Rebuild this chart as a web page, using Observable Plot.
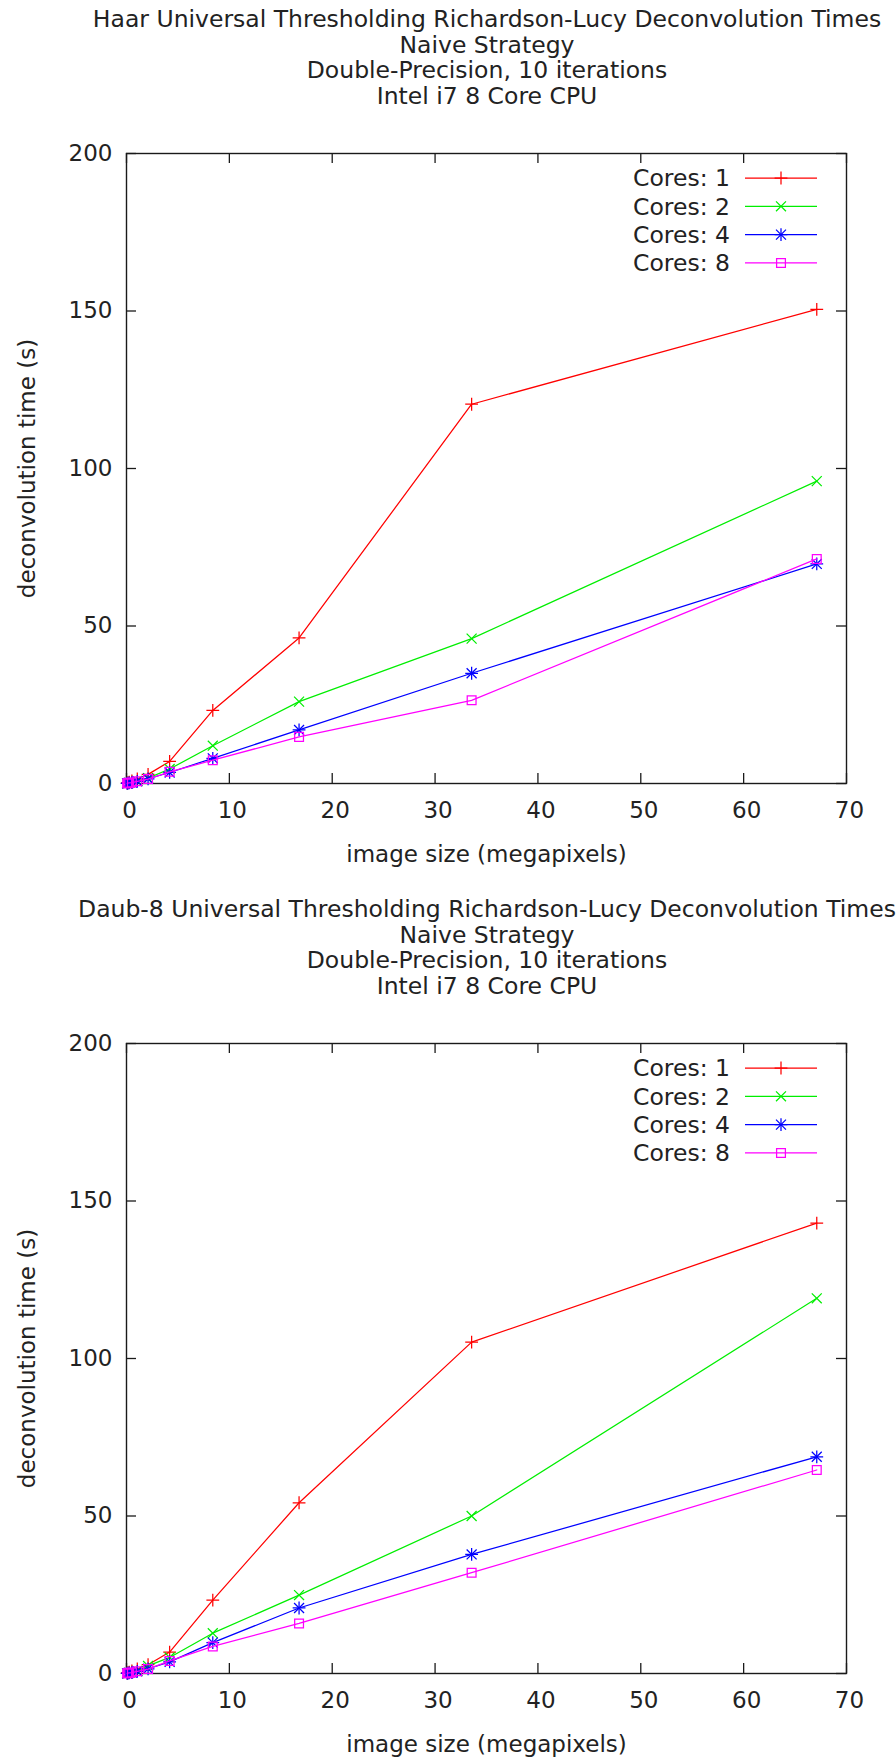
<!DOCTYPE html>
<html><head><meta charset="utf-8">
<script src="https://cdn.jsdelivr.net/npm/d3@7"></script>
<script src="https://cdn.jsdelivr.net/npm/@observablehq/plot@0.6"></script>
<style>
body{margin:0;background:#fff;font-family:"DejaVu Sans",sans-serif;}
.chart{position:relative;width:896px;height:890px;overflow:hidden}
.title{position:absolute;left:487px;top:7px;transform:translateX(-50%);white-space:nowrap;text-align:center;font-size:23.5px;line-height:25.5px;color:#222}
.legend{position:absolute;top:0;left:0;pointer-events:none}
</style></head><body><div id="root"></div>
<script>
// ---- data ----
const sizes = [0.0655, 0.131, 0.262, 0.524, 1.049, 2.097, 4.194, 8.389, 16.777, 33.554, 67.109];
const coreCounts = [1, 2, 4, 8];
const xTicks = [0, 10, 20, 30, 40, 50, 60, 70];
const yTicks = [0, 50, 100, 150, 200];

const haar1 = [0.1, 0.2, 0.4, 0.8, 1.5, 2.9, 7.0, 23.2, 46.2, 120.4, 150.5];
const haar2 = [0.05, 0.1, 0.2, 0.4, 0.8, 1.7, 4.6, 12.0, 26.0, 46.0, 96.0];
const haar4 = [0.05, 0.1, 0.2, 0.3, 0.7, 1.5, 3.5, 8.0, 17.0, 35.0, 69.7];
const haar8 = [0.05, 0.1, 0.2, 0.3, 0.7, 1.4, 3.7, 7.4, 14.8, 26.4, 71.3];

const daub1 = [0.1, 0.2, 0.4, 0.8, 1.5, 2.8, 6.8, 23.3, 54.2, 105.2, 143.0];
const daub2 = [0.05, 0.1, 0.2, 0.4, 0.8, 2.4, 5.1, 12.8, 24.9, 50.0, 119.1];
const daub4 = [0.05, 0.1, 0.2, 0.3, 0.7, 1.5, 3.7, 9.8, 20.8, 37.8, 68.8];
const daub8 = [0.05, 0.1, 0.2, 0.3, 0.7, 1.4, 4.0, 8.6, 15.9, 32.0, 64.6];

const haarTitle = ["Haar Universal Thresholding Richardson-Lucy Deconvolution Times", "Naive Strategy", "Double-Precision, 10 iterations", "Intel i7 8 Core CPU"];
const daubTitle = ["Daub-8 Universal Thresholding Richardson-Lucy Deconvolution Times", "Naive Strategy", "Double-Precision, 10 iterations", "Intel i7 8 Core CPU"];
const xLabel = "image size (megapixels)";
const yLabel = "deconvolution time (s)";

// ---- styles ----
const colors = ["#ff0000", "#00ee00", "#0000ff", "#ff00ff"];
const symbolSets = [["plus"], ["times"], ["plus", "times"], ["square2"]];
const symbolR = {plus: 4.2, times: 4.6, square2: 5.6};
const d3Sym = {plus: d3.symbolPlus, times: d3.symbolTimes, square2: d3.symbolSquare2};

const W = 896, H = 890, mT = 153, mB = 107, mL = 126, mR = 50;
const frameW = W - mL - mR, frameH = H - mT - mB;
const FONT = "DejaVu Sans";
const FS = 23;

function chart(title, series) {
  const div = document.createElement("div");
  div.className = "chart";
  const rows = series.flatMap((vals, i) => vals.map((v, j) => ({x: sizes[j], y: v, s: i})));
  const marks = [
    Plot.frame({stroke: "#1a1a1a", strokeWidth: 1.4}),
    Plot.tickX(xTicks, {x: d => d, insetTop: frameH - 10, stroke: "#1a1a1a", strokeWidth: 1.3}),
    Plot.tickX(xTicks, {x: d => d, insetBottom: frameH - 10, stroke: "#1a1a1a", strokeWidth: 1.3}),
    Plot.tickY(yTicks, {y: d => d, insetRight: frameW - 10, stroke: "#1a1a1a", strokeWidth: 1.3}),
    Plot.tickY(yTicks, {y: d => d, insetLeft: frameW - 10, stroke: "#1a1a1a", strokeWidth: 1.3}),
    Plot.axisX({ticks: xTicks, tickSize: 0, tickPadding: 18, dx: 3, label: null, fill: "#222"}),
    Plot.axisX({ticks: [], tickSize: 0, label: xLabel, labelAnchor: "center", labelOffset: 78, labelArrow: "none", fill: "#222"}),
    Plot.axisY({ticks: yTicks, tickSize: 0, tickPadding: 14, label: null, fill: "#222"}),
    Plot.axisY({ticks: [], tickSize: 0, label: yLabel, labelAnchor: "center", labelOffset: 108, labelArrow: "none", fill: "#222", fontSize: 23})
  ];
  series.forEach((vals, i) => {
    const d = rows.filter(r => r.s === i);
    marks.push(Plot.line(d, {x: "x", y: "y", stroke: colors[i], strokeWidth: 1.25}));
    symbolSets[i].forEach(sym => {
      marks.push(Plot.dot(d, {x: "x", y: "y", stroke: colors[i], symbol: sym, r: symbolR[sym], strokeWidth: 1.25}));
    });
  });
  const p = Plot.plot({
    width: W, height: H, marginTop: mT, marginBottom: mB, marginLeft: mL, marginRight: mR,
    x: {domain: [0, 70]},
    y: {domain: [0, 200]},
    style: {fontSize: FS + "px", fontFamily: FONT, background: "#fff", color: "#222", overflow: "visible"},
    marks
  });
  div.appendChild(p);

  const t = document.createElement("div");
  t.className = "title";
  t.innerHTML = title.map(s => `<div>${s}</div>`).join("");
  div.appendChild(t);

  // legend overlay (top-right inside frame)
  const svg = d3.select(div).append("svg").attr("class", "legend").attr("width", W).attr("height", H);
  const right = W - mR;
  coreCounts.forEach((c, i) => {
    const y = mT + 25 + i * 28.3;
    svg.append("text").attr("x", right - 116).attr("y", y).attr("text-anchor", "end")
      .attr("dy", "0.36em").attr("font-family", FONT).attr("font-size", FS + 0.5).attr("fill", "#222")
      .text(`Cores: ${c}`);
    svg.append("line").attr("x1", right - 101).attr("x2", right - 29).attr("y1", y).attr("y2", y)
      .attr("stroke", colors[i]).attr("stroke-width", 1.25);
    symbolSets[i].forEach(sym => {
      svg.append("path").attr("transform", `translate(${right - 65},${y})`)
        .attr("d", d3.symbol(d3Sym[sym], Math.PI * symbolR[sym] ** 2)())
        .attr("fill", "none").attr("stroke", colors[i]).attr("stroke-width", 1.25);
    });
  });
  return div;
}

const root = document.getElementById("root");
root.appendChild(chart(haarTitle, [haar1, haar2, haar4, haar8]));
root.appendChild(chart(daubTitle, [daub1, daub2, daub4, daub8]));
</script>
</body></html>
